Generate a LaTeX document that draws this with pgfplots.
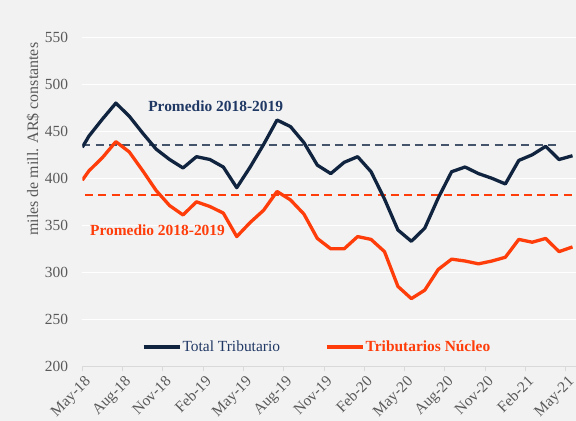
\documentclass[border=0pt]{standalone}
\usepackage{fontspec}
\setmainfont{Liberation Serif}
\usepackage{pgfplots}
\pgfplotsset{compat=1.18}
\definecolor{bg}{HTML}{F2F2F2}
\definecolor{navy}{HTML}{10243F}
\definecolor{navydash}{HTML}{44546A}
\definecolor{navytext}{HTML}{203864}
\definecolor{redc}{HTML}{FF3D0A}
\definecolor{ticktext}{HTML}{595959}
\definecolor{axisgray}{HTML}{D9D9D9}
\begin{document}
\begin{tikzpicture}
\fill[bg] (-82.3bp,-54.7bp) rectangle (493.7bp,366.3bp);
\begin{axis}[
  at={(0,0)}, anchor=south west,
  scale only axis, width=493.7bp, height=329bp,
  xmin=0, xmax=36.76, ymin=200, ymax=550,
  axis x line*=bottom, axis y line*=left,
  y axis line style={draw=none},
  x axis line style={draw=axisgray, line width=1bp, -},
  ytick={200,250,...,550},
  xtick={0,3,...,36},
  xticklabels={May-18,Aug-18,Nov-18,Feb-19,May-19,Aug-19,Nov-19,Feb-20,May-20,Aug-20,Nov-20,Feb-21,May-21},
  ymajorgrids, grid style={white, line width=1.2bp},
  tick align=outside, major tick length=5bp,
  xtick style={draw=axisgray, line width=1bp},
  ytick style={draw=none},
  tick label style={font=\fontsize{15.5}{18}\selectfont, text=ticktext},
  /pgf/number format/assume math mode=true,
  yticklabel style={inner sep=0pt, xshift=-9bp},
  xticklabel style={xshift=9bp, yshift=-11bp, rotate=45, anchor=base east, inner sep=0pt},
  ylabel={miles de mill. AR\$ constantes},
  ylabel style={at={(axis description cs:-0.0999,0.69)}, anchor=center, font=\fontsize{16}{19}\selectfont, text=ticktext},
  legend style={at={(axis cs:4.45,220.5)}, anchor=west, draw=none, fill=none, inner sep=0pt, outer sep=0pt,
    font=\fontsize{15.5}{18}\selectfont, legend columns=2,
    /tikz/every even column/.append style={column sep=44bp}, nodes={inner sep=1.2bp}},
  legend cell align=left,
  legend image code/.code={\draw[#1] (0bp,0bp) -- (36bp,0bp);},
]
\addplot[navydash, line width=2bp, dash pattern=on 8bp off 5.3bp, forget plot] coordinates {(0,435) (35.3,435)};
\addplot[redc, line width=2bp, dash pattern=on 8bp off 5.3bp, forget plot] coordinates {(0.2,382.5) (36.76,382.5)};

\addplot[navy, line width=3.3bp, line join=round] coordinates {
(0,433) (0.5,445) (1.5,463) (2.5,480) (3.5,466) (4.5,448) (5.5,431) (6.5,420) (7.5,411) (8.5,423)
(9.5,420) (10.5,412) (11.5,390) (12.5,412) (13.5,436) (14.5,462) (15.5,455) (16.5,438) (17.5,414)
(18.5,405) (19.5,417) (20.5,423) (21.5,407) (22.5,378) (23.5,345) (24.5,333) (25.5,347) (26.5,379)
(27.5,407) (28.5,412) (29.5,405) (30.5,400) (31.5,394) (32.5,419) (33.5,425) (34.5,434) (35.5,420) (36.5,424)};
\addlegendentry{\textcolor{navytext}{Total Tributario}}

\addplot[redc, line width=3.3bp, line join=round] coordinates {
(0,398) (0.5,408) (1.5,422) (2.5,439) (3.5,428) (4.5,408) (5.5,387) (6.5,371) (7.5,361) (8.5,375)
(9.5,370) (10.5,363) (11.5,338) (12.5,353) (13.5,366) (14.5,386) (15.5,377) (16.5,362) (17.5,336)
(18.5,325) (19.5,325) (20.5,338) (21.5,335) (22.5,322) (23.5,285) (24.5,272) (25.5,281) (26.5,303)
(27.5,314) (28.5,312) (29.5,309) (30.5,312) (31.5,316) (32.5,335) (33.5,332) (34.5,336) (35.5,322) (36.5,327)};
\addlegendentry{\textcolor{redc}{\bfseries Tributarios Núcleo}}

\node[font=\bfseries\fontsize{15.5}{18}\selectfont, text=navytext] at (axis cs:9.93,476.6) {Promedio 2018-2019};
\node[font=\bfseries\fontsize{15.5}{18}\selectfont, text=redc] at (axis cs:5.6,344.7) {Promedio 2018-2019};
\end{axis}
\pgfresetboundingbox
\path[use as bounding box] (-82.3bp,-54.7bp) rectangle (493.7bp,366.3bp);
\end{tikzpicture}
\end{document}
